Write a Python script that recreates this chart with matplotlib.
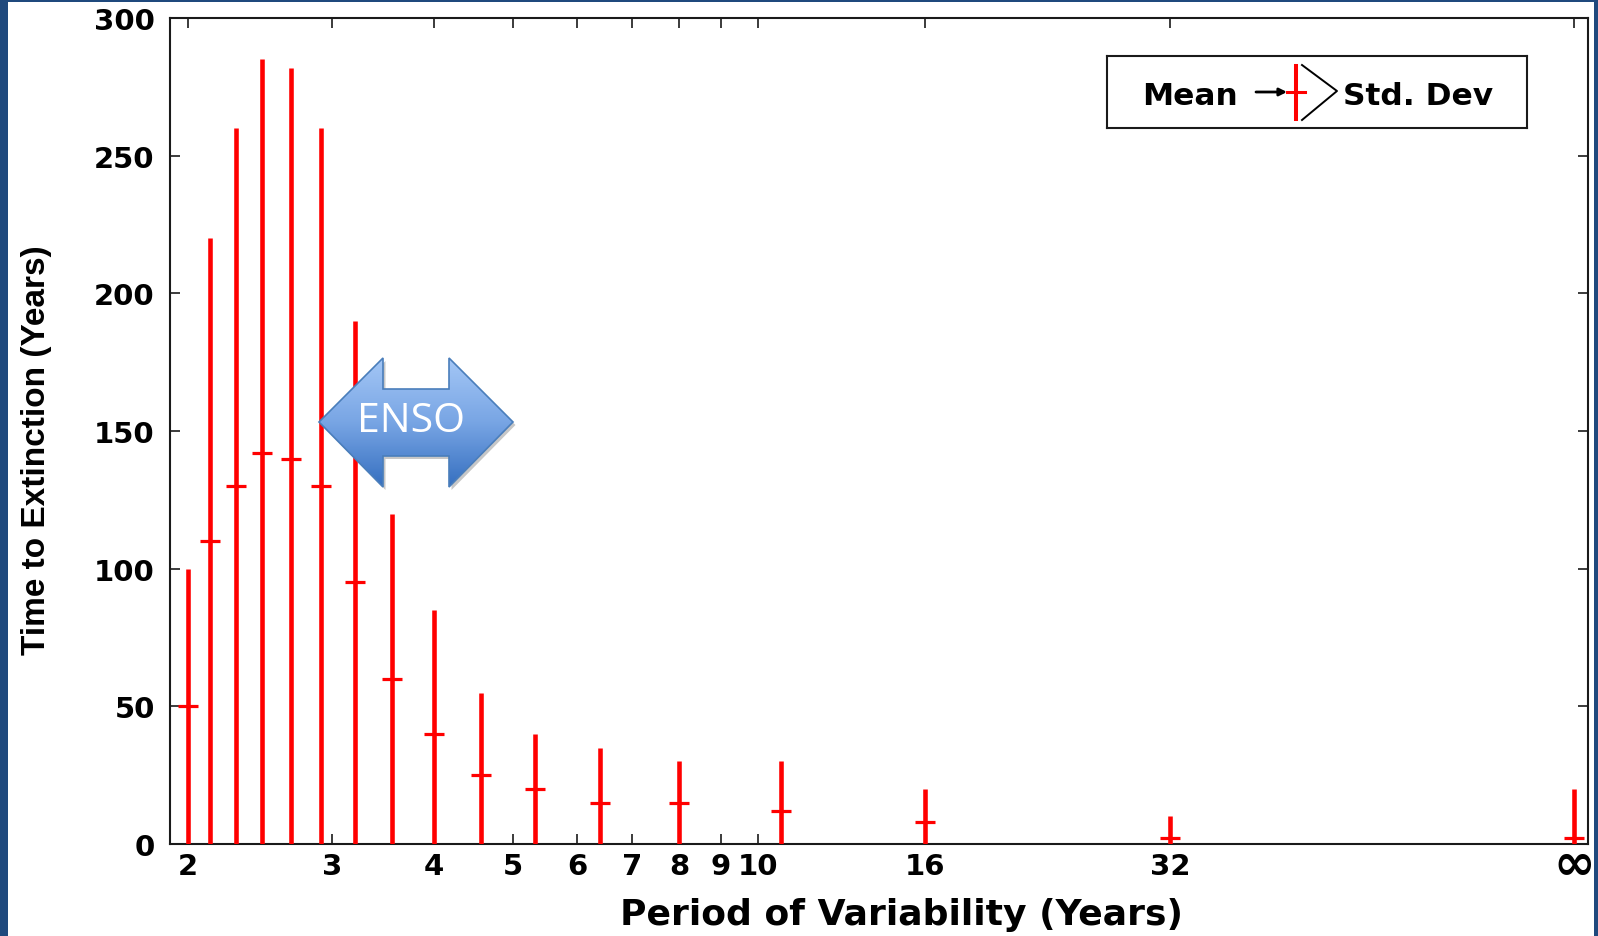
import matplotlib
matplotlib.use("Agg")
import matplotlib.pyplot as plt
import numpy as np
from matplotlib.patches import Polygon, Rectangle
from matplotlib.ticker import FixedLocator, NullLocator
from matplotlib.transforms import blended_transform_factory
from matplotlib.colors import LinearSegmentedColormap

# ---- data -------------------------------------------------------------
periods = [2.0, 2.13, 2.29, 2.46, 2.67, 2.91, 3.2, 3.56, 4.0, 4.57, 5.33,
           6.4, 8.0, 10.67, 16.0, 32.0, np.inf]
mean_years = [50, 110, 130, 142, 140, 130, 95, 60, 40, 25, 20, 15, 15, 12, 8, 2, 2]
std_years = [50, 110, 130, 143, 142, 130, 95, 60, 45, 30, 20, 20, 15, 18, 12, 8, 18]

tick_periods = [2, 3, 4, 5, 6, 7, 8, 9, 10, 16, 32, np.inf]
tick_labels = ["2", "3", "4", "5", "6", "7", "8", "9", "10", "16", "32", "\u221e"]
y_ticks = [0, 50, 100, 150, 200, 250, 300]

INF_POS = 100  # axis position used for the infinite-period case


def axis_pos(p):
    return INF_POS if np.isinf(p) else p


x_pos = [axis_pos(p) for p in periods]
x_tick_pos = [axis_pos(p) for p in tick_periods]

# ---- figure -----------------------------------------------------------
W, H = 1598, 937
plt.rcParams["font.family"] = ["DejaVu Sans"]
plt.rcParams["font.weight"] = "bold"

fig = plt.figure(figsize=(W / 100, H / 100), dpi=100, facecolor="#1F497D")
fig.add_artist(Rectangle((8 / W, 0), (1594 - 8) / W, 934 / H,
                         transform=fig.transFigure, facecolor="white",
                         edgecolor="none", zorder=0))


def box(x0, y0, x1, y1):
    """Figure-fraction rectangle from pixel edges (y measured downward)."""
    return [x0 / W, 1 - y1 / H, (x1 - x0) / W, (y1 - y0) / H]


ax = fig.add_axes(box(170, 19, 1588, 845))
ax.set_facecolor("white")

ax.errorbar(x_pos, mean_years, yerr=std_years, fmt="none", ecolor="red",
            elinewidth=3.3, capsize=0, zorder=3)
ax.plot(x_pos, mean_years, ls="none", marker="_", ms=15, mew=2.3,
        color="red", zorder=4)

ax.set_xscale("log")
ax.set_xlim(1.9, 104)
ax.set_ylim(0, 300)
ax.xaxis.set_major_locator(FixedLocator(x_tick_pos))
ax.xaxis.set_minor_locator(NullLocator())
ax.set_xticklabels(tick_labels[:-1] + [""])
ax.set_yticks(y_ticks)
ax.tick_params(direction="in", top=True, right=True, length=7, width=1.2,
               labelsize=21, color="#1a1a1a")
ax.tick_params(axis="x", pad=6)
ax.tick_params(axis="y", pad=11)
for s in ax.spines.values():
    s.set_linewidth(1.5)
    s.set_color("#1a1a1a")

# the infinity label is drawn larger than the numeric ones
ax.text(INF_POS, -0.0412, tick_labels[-1],
        transform=blended_transform_factory(ax.transData, ax.transAxes),
        ha="center", va="baseline", fontsize=36, fontweight="bold",
        clip_on=False)

ax.set_xlabel("Period of Variability (Years)", fontsize=26, fontweight="bold")
ax.xaxis.set_label_coords(0.516, -0.064)
ax.set_ylabel("Time to Extinction (Years)", fontsize=24, fontweight="bold",
              family="Liberation Sans")
ax.yaxis.set_label_coords(-0.0835, 0.478)

# ---- ENSO double arrow ------------------------------------------------
ax_arrow = fig.add_axes(box(314, 354, 522, 496), zorder=5)
ax_arrow.axis("off")
enso_xy = [(319, 423), (383, 359), (383, 390), (449, 390), (449, 359),
           (513, 423), (449, 488), (449, 457), (383, 457), (383, 488)]
shadow = Polygon([(px + 2.5, py + 3) for px, py in enso_xy], closed=True,
                 facecolor="black", alpha=0.22, edgecolor="none", zorder=1)
ax_arrow.add_patch(shadow)
grad = np.linspace(0, 1, 256).reshape(-1, 1)
cmap = LinearSegmentedColormap.from_list("enso", ["#A4C7F6", "#78A5E4", "#356FC0"])
img = ax_arrow.imshow(grad, cmap=cmap, extent=(319, 513, 488, 359),
                      aspect="auto", interpolation="bilinear", zorder=2)
outline = Polygon(enso_xy, closed=True, facecolor="none", edgecolor="#4A7EBB",
                  lw=1.2, zorder=3)
ax_arrow.add_patch(outline)
img.set_clip_path(outline)
ax_arrow.set_xlim(314, 522)
ax_arrow.set_ylim(496, 354)
ax_arrow.text(411, 432, "ENSO", color="white", fontsize=29.5, family="Open Sans",
              fontweight="normal", ha="center", va="baseline", zorder=4)

# ---- key box ----------------------------------------------------------
ax_key = fig.add_axes(box(1107, 57, 1527, 129), zorder=5)
ax_key.set_xlim(1107, 1527)
ax_key.set_ylim(129, 57)
ax_key.set_xticks([])
ax_key.set_yticks([])
for s in ax_key.spines.values():
    s.set_linewidth(1.5)
    s.set_color("#1a1a1a")
ax_key.text(1142, 105, "Mean", fontsize=22.5, fontweight="bold", va="baseline")
ax_key.annotate("", xy=(1287, 93), xytext=(1256, 93),
                arrowprops=dict(arrowstyle="-|>", color="black", lw=2.0,
                                mutation_scale=11, shrinkA=0, shrinkB=0))
ax_key.plot([1296, 1296], [67, 120], color="red", lw=2.9)
ax_key.plot([1287, 1305], [93, 93], color="red", lw=2.2)
ax_key.plot([1302, 1337, 1302], [66, 92, 121], color="black", lw=1.4)
ax_key.text(1343, 105, "Std. Dev", fontsize=22.5, fontweight="bold", va="baseline")

fig.savefig("out.png", dpi=100, facecolor=fig.get_facecolor())
